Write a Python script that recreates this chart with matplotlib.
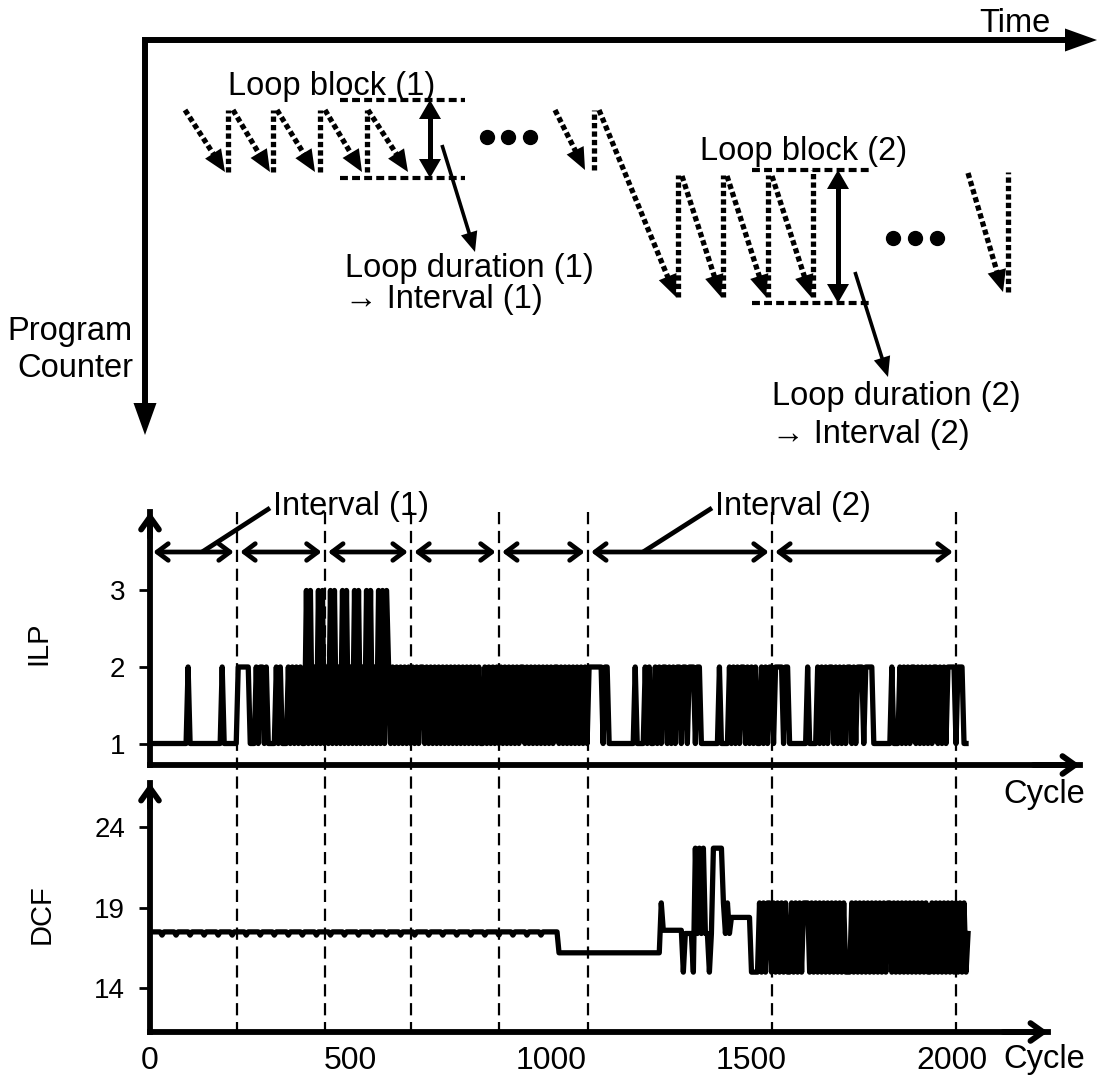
import numpy as np
import matplotlib
matplotlib.use('Agg')
import matplotlib.pyplot as plt
from matplotlib.patches import Polygon
from matplotlib import transforms

plt.rcParams['font.family'] = ['Liberation Sans', 'DejaVu Sans']

# ILP per sample (one digit every 5 cycles)
ilp_trace = "".join([
    "1111111111111111111" "2" "1111111111111111" "2" "1111111",
    "222222" "111" "212212" "1111" "212" "111" "21212" "121",
    "1" "313121" "313121" "313121" "313121" "313121" "313121" "31313",
    "2121212121212121221212121212",
    "1212121212121212121121212121",
    "2121212121221212121212121212",
    "212121212121",
    "2121222222212211",
    "11111111111" "2" "1111" "2121121212212121221221222122",
    "111111111" "2" "1111" "212121221212121121212212222122",
    "111111111" "2" "1111" "2121212212121212212122212222",
    "111111111" "2" "111" "21212122121212121221212122221222" "11",
])

# DCF levels and per-sample codes (same 5-cycle step)
dcf_level = {"A": 17.5, "a": 17.3, "L": 16.2, "M": 17.6, "m": 17.4,
             "S": 18.4, "H": 19.3, "B": 15.0, "T": 22.7}
dcf_trace = "".join([
    "AAAAAAaAAAAAAaAAAAAAaAAAAAAa",
    "AAAAAAaAAAAAAaAAAAAAaAAAAAAa",
    "AAAAAAaAAAAAAaAAAAAAaAAAAAAa",
    "AAAAAAaAAAAAAaAAAAAAaAAAAAAa",
    "AAAAAAaAAAAAAaAAAAAAaAAAAAAa",
    "AAAAAAaAAAAAAaAAAAAAaAAAAAAa",
    "AAAAAAaAAAAAAaAAAAAAaAAAAAAa",
    "AAAAAAAA",
    "LLLLLLLLLL" "LLLLLLLLLL" "LLLLLLLLLL" "LLLLLLLLLL" "LLLLLLLLLL" "L",
    "H" "MMMMMMMMMM" "B" "mmmm" "B" "TmTmTm" "m" "B" "m" "TTTTT" "HmHm",
    "SSSSSSSSSS" "BBBB",
    "HBHB" "HH" "BHBHBHBH" "BB" "HBHBHBH" "HH" "BHBHBHBHBHBHBHBHBHB" "BB",
    "HBHBHBHBHBHBHBHBHB" "HH" "BHBHBHBHBHBHBHBHBH" "BB",
    "HBHBHBHBHBHBHBHBHB" "m",
])

sample_step = 5
interval_bounds = [0, 217, 436, 651, 870, 1092, 1551, 2010]
x_ticks = [0, 500, 1000, 1500, 2000]
ilp_ticks = [1, 2, 3]
dcf_ticks = [14, 19, 24]

ilp = np.array([int(c) for c in ilp_trace])
dcf = np.array([dcf_level[c] for c in dcf_trace])
ilp_x = np.arange(len(ilp)) * sample_step
dcf_x = np.arange(len(dcf)) * sample_step

W, H = 1099, 1077
PX_PER_CYCLE = 0.401
X0 = 150

fig = plt.figure(figsize=(W / 100, H / 100), dpi=100)


def px_axes(x0, y0, x1, y1):
    return fig.add_axes([x0 / W, 1 - y1 / H, (x1 - x0) / W, (y1 - y0) / H])


ax_ilp = px_axes(X0, 512, 1080, 765)
ax_dcf = px_axes(X0, 783, 1048, 1032)

ax_ilp.plot(ilp_x, ilp, color='k', lw=3.8)
ax_dcf.plot(dcf_x, dcf, color='k', lw=3.8)

ax_ilp.set_xlim(0, (1080 - X0) / PX_PER_CYCLE)
ax_dcf.set_xlim(0, (1048 - X0) / PX_PER_CYCLE)
ax_ilp.set_ylim(0.719, 4.026)
ax_dcf.set_ylim(11.28, 26.75)
ax_ilp.set_yticks(ilp_ticks)
ax_dcf.set_yticks(dcf_ticks)
ax_ilp.set_xticks([])
ax_dcf.set_xticks(x_ticks, [str(t) for t in x_ticks])

axis_arrow = dict(arrowstyle='->,head_length=0.45,head_width=0.32', lw=4.2,
                  color='k', shrinkA=0, shrinkB=0, mutation_scale=20)
for ax in (ax_ilp, ax_dcf):
    ax.patch.set_alpha(0)
    for s in ('top', 'right'):
        ax.spines[s].set_visible(False)
    for s in ('left', 'bottom'):
        ax.spines[s].set_linewidth(4.2)
    ax.tick_params(axis='y', direction='out', length=8, width=2, pad=10, labelsize=20)
    ax.tick_params(axis='x', length=0, pad=10, labelsize=23)
    ax.annotate('', xy=(0, 1), xytext=(0, 0.9), xycoords='axes fraction',
                arrowprops=axis_arrow, annotation_clip=False)
    ax.annotate('', xy=(1, 0), xytext=(0.95, 0), xycoords='axes fraction',
                arrowprops=axis_arrow, annotation_clip=False)

# overlay in pixel coordinates for the sketch and annotations
over = fig.add_axes([0, 0, 1, 1])
over.patch.set_alpha(0)
over.set_zorder(5)
over.axis('off')
blend = transforms.blended_transform_factory(ax_dcf.transData, over.transData)

FS = 23.5


def head(tip, tail, length=22, width=19):
    (x1, y1), (x0, y0) = tip, tail
    d = np.hypot(x1 - x0, y1 - y0)
    ux, uy = (x1 - x0) / d, (y1 - y0) / d
    bx, by = x1 - ux * length, y1 - uy * length
    pts = [(x1, y1), (bx - uy * width / 2, by + ux * width / 2),
           (bx + uy * width / 2, by - ux * width / 2)]
    over.add_patch(Polygon(pts, closed=True, color='k', lw=0))
    return bx + ux * 3, by + uy * 3


def dotted_arrow(tail, tip):
    end = head(tip, tail)
    over.plot([tail[0], end[0]], [tail[1], end[1]], color='k', lw=3.8,
              linestyle=(0, (1.0, 0.6)), dash_capstyle='butt')


def dotted_up(x, y0, y1):
    over.plot([x, x], [y0, y1], color='k', lw=3.8,
              linestyle=(0, (1.0, 0.6)), dash_capstyle='butt')


def solid_arrow(tail, tip, lw=2.6, length=20, width=17):
    end = head(tip, tail, length, width)
    over.plot([tail[0], end[0]], [tail[1], end[1]], color='k', lw=lw,
              solid_capstyle='butt')


def double_arrow(x, y0, y1):
    over.plot([x, x], [y0 + 15, y1 - 15], color='k', lw=3.6, solid_capstyle='butt')
    head((x, y0), (x, y1), 19, 22)
    head((x, y1), (x, y0), 19, 22)


# Time / Program Counter axes
over.plot([1068, 145, 145], [40, 40, 406], color='k', lw=4.3,
          solid_joinstyle='miter', solid_capstyle='butt')
head((1097, 40), (1000, 40), 32, 23)
head((145, 435), (145, 300), 32, 23)
over.text(1050, 32, "Time", ha='right', va='baseline', fontsize=FS)
over.text(133, 340, "Program", ha='right', va='baseline', fontsize=FS)
over.text(133, 377, "Counter", ha='right', va='baseline', fontsize=FS)

# loop block (1)
loop1_arrows = [((185, 110), (225, 172)), ((233, 110), (270, 172)),
                ((277, 110), (315, 172)), ((325, 110), (362, 172)),
                ((368, 110), (408, 172)), ((555, 110), (585, 170))]
loop1_returns = [(228, 172, 110), (273, 172, 110), (320, 172, 110),
                 (367, 172, 110), (594, 170, 110)]
for tail, tip in loop1_arrows:
    dotted_arrow(tail, tip)
for x, y0, y1 in loop1_returns:
    dotted_up(x, y0, y1)

# loop block (2)
loop2_arrows = [((599, 110), (676, 297)), ((682, 176), (721, 297)),
                ((727, 176), (766, 297)), ((772, 176), (811, 297)),
                ((968, 173), (1003, 292))]
loop2_returns = [(678, 297, 175), (723, 297, 175), (768, 297, 175),
                 (813, 297, 170), (1008, 292, 172)]
for tail, tip in loop2_arrows:
    dotted_arrow(tail, tip)
for x, y0, y1 in loop2_returns:
    dotted_up(x, y0, y1)

block_dash = dict(color='k', lw=3.0, linestyle=(0, (1.9, 1.0)), dash_capstyle='butt')
for y in (100, 178):
    over.plot([340, 465], [y, y], **block_dash)
for y in (170, 303):
    over.plot([752, 872], [y, y], **block_dash)
double_arrow(430, 100, 178)
double_arrow(838, 170, 303)

over.plot([487, 508, 530], [137, 137, 137], 'o', color='k', ms=10)
over.plot([893, 915, 937], [238, 238, 238], 'o', color='k', ms=10)

solid_arrow((442, 145), (475, 252))
solid_arrow((855, 272), (888, 377))

over.text(332, 95, "Loop block (1)", ha='center', va='baseline', fontsize=FS)
over.text(804, 160, "Loop block (2)", ha='center', va='baseline', fontsize=FS)
over.text(345, 277, "Loop duration (1)", ha='left', va='baseline', fontsize=FS)
over.text(345, 308, "\u2192 Interval (1)", ha='left', va='baseline', fontsize=FS)
over.text(772, 405, "Loop duration (2)", ha='left', va='baseline', fontsize=FS)
over.text(772, 443, "\u2192 Interval (2)", ha='left', va='baseline', fontsize=FS)

# interval boundaries and arrows
for b in interval_bounds[1:]:
    over.plot([b, b], [512, 1030], transform=blend, color='k', lw=1.6,
              linestyle=(0, (5.5, 3.0)))
gap = 8
for a, b in zip(interval_bounds[:-1], interval_bounds[1:]):
    over.annotate('', xy=(b - gap, 552), xytext=(a + gap, 552),
                  xycoords=blend, textcoords=blend,
                  arrowprops=dict(arrowstyle='<->,head_length=0.4,head_width=0.3',
                                  lw=3.4, color='k', shrinkA=0, shrinkB=0,
                                  mutation_scale=20))
over.plot([202, 270], [552, 508], color='k', lw=3.4, solid_capstyle='butt')
over.plot([643, 712], [552, 508], color='k', lw=3.4, solid_capstyle='butt')
over.text(273, 515, "Interval (1)", ha='left', va='baseline', fontsize=FS)
over.text(715, 515, "Interval (2)", ha='left', va='baseline', fontsize=FS)

over.text(38, 643, "ILP", rotation=90, ha='center', va='center', fontsize=21)
over.text(42, 914, "DCF", rotation=90, ha='center', va='center', fontsize=21)
over.text(1003, 803, "Cycle", ha='left', va='baseline', fontsize=FS)
over.text(1003, 1068, "Cycle", ha='left', va='baseline', fontsize=FS)

over.set_xlim(0, W)
over.set_ylim(H, 0)

fig.savefig('out.png', dpi=100)
